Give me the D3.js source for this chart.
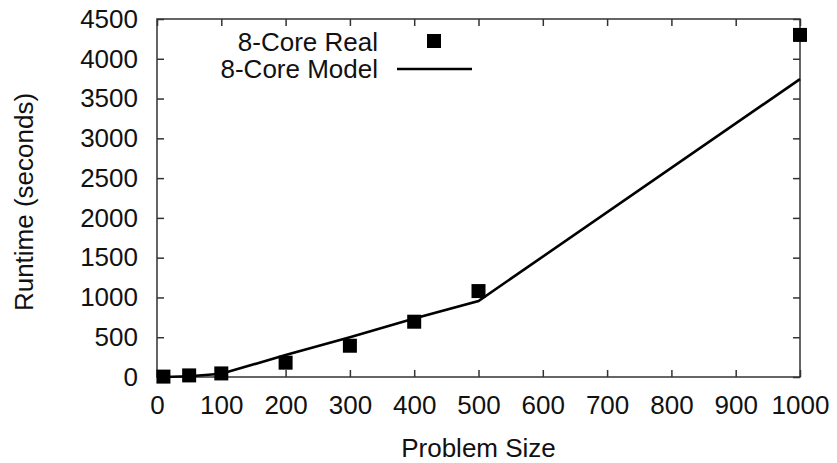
<!DOCTYPE html>
<html>
<head>
<meta charset="utf-8">
<script src="https://cdn.jsdelivr.net/npm/d3@7"></script>
<style>
  body { margin: 0; background: #fff; }
  svg text { font-family: "Liberation Sans", Arial, sans-serif; fill: #111; }
</style>
</head>
<body>
<div id="chart"></div>
<script>
// Data
const realSizes = [10, 50, 100, 200, 300, 400, 500, 1000];
const realRuntimes = [5, 20, 45, 180, 393, 695, 1080, 4300];
const modelSizes = [10, 50, 100, 200, 300, 400, 500, 1000];
const modelRuntimes = [0, 10, 40, 275, 500, 735, 955, 3745];
const xTicks = [0, 100, 200, 300, 400, 500, 600, 700, 800, 900, 1000];
const yTicks = [0, 500, 1000, 1500, 2000, 2500, 3000, 3500, 4000, 4500];

const width = 837;
const height = 463;
const plotLeft = 157, plotRight = 800, plotTop = 19, plotBottom = 377;
const fontSize = 26;

const svg = d3.select("#chart")
    .append("svg")
    .attr("width", width)
    .attr("height", height);

const x = d3.scaleLinear().domain([0, 1000]).range([plotLeft, plotRight]);
const y = d3.scaleLinear().domain([0, 4500]).range([plotBottom, plotTop]);

// Axes with inward ticks, mirrored on top and right
const tickLen = 7;
svg.append("g")
    .attr("transform", `translate(0,${plotBottom})`)
    .call(d3.axisBottom(x).tickValues(xTicks).tickFormat(d3.format("d"))
        .tickSizeInner(-tickLen).tickSizeOuter(0).tickPadding(19))
    .call(g => g.select(".domain").remove())
    .call(g => g.selectAll("text").attr("font-size", fontSize).attr("dy", "0.71em"));

svg.append("g")
    .attr("transform", `translate(0,${plotTop})`)
    .call(d3.axisTop(x).tickValues(xTicks).tickSizeInner(-tickLen).tickSizeOuter(0).tickFormat(""))
    .call(g => g.select(".domain").remove());

svg.append("g")
    .attr("transform", `translate(${plotLeft},0)`)
    .call(d3.axisLeft(y).tickValues(yTicks).tickFormat(d3.format("d"))
        .tickSizeInner(-tickLen).tickSizeOuter(0).tickPadding(19))
    .call(g => g.select(".domain").remove())
    .call(g => g.selectAll("text").attr("font-size", fontSize));

svg.append("g")
    .attr("transform", `translate(${plotRight},0)`)
    .call(d3.axisRight(y).tickValues(yTicks).tickSizeInner(-tickLen).tickSizeOuter(0).tickFormat(""))
    .call(g => g.select(".domain").remove());

svg.selectAll(".tick line").attr("stroke", "#333").attr("stroke-width", 1.5);

// Frame
svg.append("rect")
    .attr("x", plotLeft).attr("y", plotTop)
    .attr("width", plotRight - plotLeft).attr("height", plotBottom - plotTop)
    .attr("fill", "none")
    .attr("stroke", "#333")
    .attr("stroke-width", 1.5);

// Model line
const modelData = modelSizes.map((s, i) => [s, modelRuntimes[i]]);
svg.append("path")
    .datum(modelData)
    .attr("fill", "none")
    .attr("stroke", "#000")
    .attr("stroke-width", 2.6)
    .attr("d", d3.line().x(d => x(d[0])).y(d => y(d[1])));

// Real markers
const realData = realSizes.map((s, i) => [s, realRuntimes[i]]);
const ms = 14;
svg.selectAll("rect.pt")
    .data(realData)
    .enter()
    .append("rect")
    .attr("class", "pt")
    .attr("x", d => x(d[0]) - ms / 2)
    .attr("y", d => y(d[1]) - ms / 2)
    .attr("width", ms)
    .attr("height", ms)
    .attr("fill", "#000");

// Legend
svg.append("text")
    .attr("x", 378).attr("y", 42)
    .attr("dy", "0.35em")
    .attr("text-anchor", "end")
    .attr("font-size", fontSize)
    .text("8-Core Real");
svg.append("rect")
    .attr("x", 434 - ms / 2).attr("y", 41 - ms / 2)
    .attr("width", ms).attr("height", ms)
    .attr("fill", "#000");
svg.append("text")
    .attr("x", 378).attr("y", 69)
    .attr("dy", "0.35em")
    .attr("text-anchor", "end")
    .attr("font-size", fontSize)
    .text("8-Core Model");
svg.append("line")
    .attr("x1", 397).attr("x2", 472)
    .attr("y1", 69).attr("y2", 69)
    .attr("stroke", "#000")
    .attr("stroke-width", 2.6);

// Axis titles
svg.append("text")
    .attr("x", (plotLeft + plotRight) / 2).attr("y", 448)
    .attr("dy", "0.35em")
    .attr("text-anchor", "middle")
    .attr("font-size", fontSize)
    .text("Problem Size");
svg.append("text")
    .attr("transform", `translate(24,${(plotTop + plotBottom) / 2 + 4}) rotate(-90)`)
    .attr("dy", "0.35em")
    .attr("text-anchor", "middle")
    .attr("font-size", fontSize)
    .text("Runtime (seconds)");
</script>
</body>
</html>
